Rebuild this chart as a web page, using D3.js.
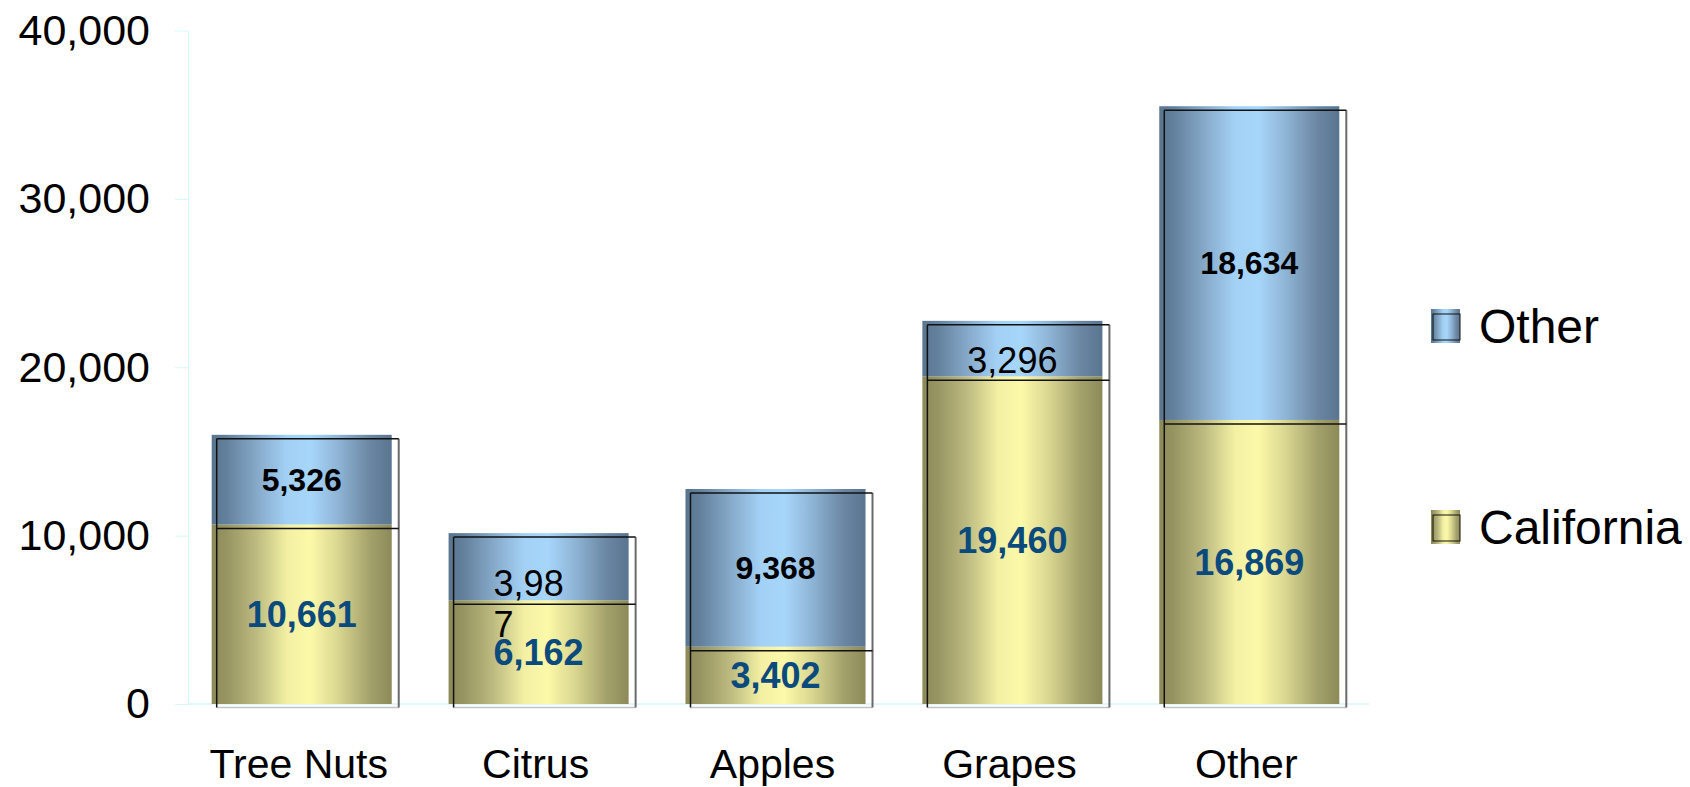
<!DOCTYPE html>
<html>
<head>
<style>
html, body {
    margin: 0;
    padding: 0;
    background: #fff;
    overflow: hidden;
}
svg text {
    font-family: "Liberation Sans", Arial, sans-serif;
}
</style>
</head>
<body>
<script src="https://cdn.jsdelivr.net/npm/d3@7"></script>
<script>
const width = 1690, height = 787;

// data
const categories = ["Tree Nuts", "Citrus", "Apples", "Grapes", "Other"];
const california = [10661, 6162, 3402, 19460, 16869];
const other = [5326, 3987, 9368, 3296, 18634];
const yTicks = [0, 10000, 20000, 30000, 40000];
const seriesNames = ["California", "Other"];

const rows = categories.map((c, i) => ({cat: c, California: california[i], Other: other[i]}));

const svg = d3.select("body").append("svg")
    .attr("width", width)
    .attr("height", height);

const y = d3.scaleLinear().domain([0, 40000]).range([704, 30.5]);
const x = d3.scaleBand().domain(categories).range([188, 1363])
    .paddingInner(0.24).paddingOuter(0.1);
const bw = x.bandwidth();

// cylinder-ish horizontal gradients
const defs = svg.append("defs");
const grads = {
    California: ["#8c8a58", "#969461", "#bdbb80", "#f3f0a4", "#fcf9a9", "#dad791", "#a3a16b", "#8c8a58"],
    Other: ["#5a7590", "#62809c", "#86a9c9", "#a3d1f6", "#a7d6fb", "#8fb5d6", "#6a86a2", "#5a7590"]
};
const offs = [0, 0.08, 0.25, 0.42, 0.55, 0.7, 0.88, 1];
Object.entries(grads).forEach(([k, cols]) => {
    const g = defs.append("linearGradient")
        .attr("id", "g-" + k)
        .attr("x1", "0%").attr("x2", "100%").attr("y1", "0%").attr("y2", "0%");
    cols.forEach((c, i) => g.append("stop").attr("offset", offs[i]).attr("stop-color", c));
});

// y axis
const yAxis = svg.append("g")
    .attr("transform", `translate(${x.range()[0]},0)`)
    .call(d3.axisLeft(y).tickValues(yTicks).tickFormat(d3.format(","))
        .tickSizeInner(13).tickSizeOuter(0).tickPadding(25));
yAxis.select(".domain").attr("stroke", "#d6f8f8");
yAxis.selectAll(".tick line").attr("stroke", "#d6f8f8");
yAxis.selectAll(".tick text")
    .attr("fill", "#000")
    .style("font-size", "43px");

// baseline
svg.append("line")
    .attr("x1", x.range()[0]).attr("x2", 1369)
    .attr("y1", y(0)).attr("y2", y(0))
    .attr("stroke", "#d6f8f8").attr("stroke-width", 1.5);

// x axis labels
const xAxis = svg.append("g")
    .attr("transform", `translate(-3,${y(0)})`)
    .call(d3.axisBottom(x).tickSize(0).tickPadding(45));
xAxis.select(".domain").remove();
xAxis.selectAll(".tick text")
    .attr("fill", "#000")
    .style("font-size", "41px");

// stacked bars
const stacked = d3.stack().keys(seriesNames)(rows);

svg.append("g")
    .selectAll("g")
    .data(stacked)
    .join("g")
        .attr("fill", s => `url(#g-${s.key})`)
    .selectAll("rect")
    .data(s => s)
    .join("rect")
        .attr("x", d => x(d.data.cat))
        .attr("y", d => y(d[1]))
        .attr("width", bw)
        .attr("height", d => y(d[0]) - y(d[1]));

// offset outline frames drawn over the bars
const frame = svg.append("g");
rows.forEach(r => {
    const x0 = x(r.cat) + 5, x1 = x(r.cat) + bw + 7;
    const top = y(r.California + r.Other) + 4;
    const mid = y(r.California) + 4;
    const bot = y(0) + 3.5;
    frame.append("line").attr("x1", x0).attr("x2", x1).attr("y1", bot).attr("y2", bot)
        .attr("stroke", "#c4c4c4").attr("stroke-width", 1.5);
    frame.append("line").attr("x1", x1).attr("x2", x1).attr("y1", top).attr("y2", bot)
        .attr("stroke", "#6a6a6a").attr("stroke-width", 2);
    frame.append("line").attr("x1", x0).attr("x2", x0).attr("y1", top).attr("y2", bot)
        .attr("stroke", "#111").attr("stroke-width", 1.5);
    [top, mid].forEach(yy => frame.append("line")
        .attr("x1", x0).attr("x2", x1).attr("y1", yy).attr("y2", yy)
        .attr("stroke", "#111").attr("stroke-width", 1.5));
});

// value labels
const fmt = d3.format(",");
const labels = svg.append("g").attr("text-anchor", "middle");
stacked.forEach(s => {
    s.forEach(d => {
        const cx = x(d.data.cat) + bw / 2;
        const cy = (y(d[0]) + y(d[1])) / 2;
        const segH = y(d[0]) - y(d[1]);
        const txt = fmt(d[1] - d[0]);
        if (s.key === "California") {
            labels.append("text")
                .attr("x", cx).attr("y", cy).attr("dy", "0.35em")
                .attr("fill", "#0b4a7d")
                .style("font-size", "36px").style("font-weight", "bold")
                .text(txt);
        } else if (segH > 80) {
            labels.append("text")
                .attr("x", cx).attr("y", cy).attr("dy", "0.35em")
                .attr("fill", "#000")
                .style("font-size", "32px").style("font-weight", "bold")
                .text(txt);
        } else if (d.data.cat === "Citrus") {
            // this one wraps onto a second line in the original
            const t = labels.append("text")
                .attr("text-anchor", "start")
                .attr("fill", "#000")
                .style("font-size", "36px");
            const x0 = cx - 45;
            t.append("tspan").attr("x", x0).attr("y", cy + 29).text(txt.slice(0, 4));
            t.append("tspan").attr("x", x0).attr("y", cy + 70).text(txt.slice(4));
        } else {
            labels.append("text")
                .attr("x", cx).attr("y", cy + 24)
                .attr("fill", "#000")
                .style("font-size", "36px")
                .text(txt);
        }
    });
});

// legend
const legendNames = seriesNames.slice().reverse();
const legend = svg.append("g")
    .selectAll("g")
    .data(legendNames)
    .join("g")
        .attr("transform", (d, i) => `translate(1431,${309 + i * 201})`);
legend.append("rect")
    .attr("width", 29).attr("height", 34)
    .attr("fill", d => `url(#g-${d})`);
legend.append("rect")
    .attr("x", 2).attr("y", 5).attr("width", 27).attr("height", 26)
    .attr("fill", "none").attr("stroke", "#111").attr("stroke-width", 1);
legend.append("text")
    .attr("x", 48).attr("y", 17).attr("dy", "0.35em")
    .attr("fill", "#000")
    .style("font-size", "48px")
    .text(d => d);
</script>
</body>
</html>
